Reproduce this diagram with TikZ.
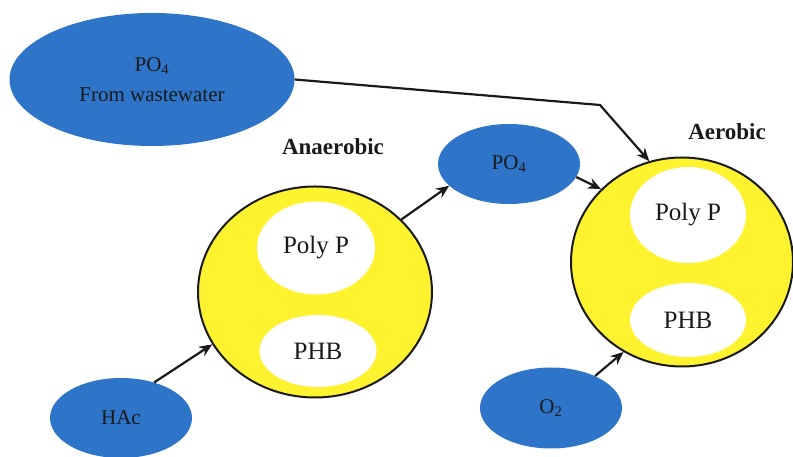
\documentclass[tikz,border=0pt]{standalone}
\usepackage{fontspec}
\setmainfont{Liberation Serif}
\usetikzlibrary{arrows.meta, shapes.geometric}
\definecolor{speciesblue}{HTML}{2E74C8}
\definecolor{cellyellow}{HTML}{FFF22E}
\definecolor{inkdark}{HTML}{1A1A1A}
\tikzset{
  cell/.style={ellipse, draw=inkdark, line width=2pt, fill=cellyellow, inner sep=0pt},
  granule/.style={ellipse, fill=white, inner sep=0pt, text=inkdark, font=\fontsize{25}{27}\selectfont},
  species/.style={ellipse, fill=speciesblue, inner sep=0pt, text=inkdark, font=\fontsize{21}{30}\selectfont},
  phase/.style={text=inkdark, font=\bfseries\fontsize{23}{26}\selectfont},
  flow/.style={-{Stealth[length=13pt, width=11pt]}, line width=2.2pt, color=inkdark}
}

\begin{document}
\begin{tikzpicture}[x=1pt, y=1pt]
\useasboundingbox (0,0) rectangle (793,457);

% incoming phosphate
\node[species, minimum width=285, minimum height=133, align=center] (ww) at (152,377.5) {PO\textsubscript{4}\\From wastewater};

% anaerobic cell
\node[phase] (anlabel) at (333,310) {Anaerobic};
\node[cell, minimum width=234, minimum height=211] (anaer) at (315,165) {};
\node[granule, minimum width=118, minimum height=93] (polyan) at (316,209) {Poly P};
\node[granule, minimum width=117, minimum height=72] (phban) at (318,106) {PHB};
\node[species, minimum width=142, minimum height=80] (hac) at (121,39) {HAc};
\node[species, minimum width=142, minimum height=80] (po) at (509,293) {PO\textsubscript{4}};

% aerobic cell
\node[phase] (aerlabel) at (727,325) {Aerobic};
\node[cell, minimum width=222, minimum height=209] (aer) at (682,195) {};
\node[granule, minimum width=116, minimum height=96] (polyaer) at (688,242) {Poly P};
\node[granule, minimum width=116, minimum height=74] (phbaer) at (688,137) {PHB};
\node[species, minimum width=142, minimum height=81] (oxy) at (551,49) {O\textsubscript{2}};

\coordinate (bend) at (600,352);

\draw[flow] (hac.47) -- (anaer.207);
\draw[flow] (anaer.40) -- (po.200);
\draw[flow] (po.-11) -- (aer.138);
\draw[flow] (oxy.36) -- (aer.237);
\draw[flow] (ww.east) -- (bend) -- (aer.108);
\end{tikzpicture}
\end{document}
